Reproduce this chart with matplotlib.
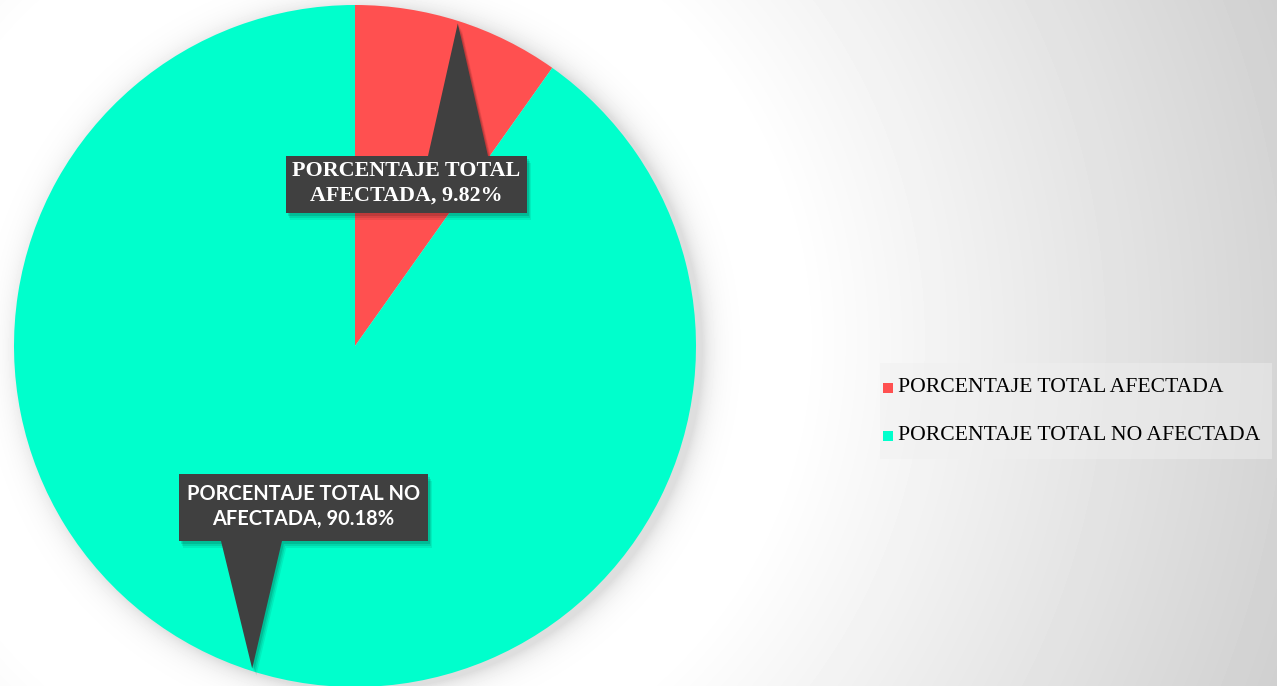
import numpy as np
import matplotlib.pyplot as plt
from matplotlib.patches import Polygon, Rectangle

# ============================================================================
# Data
# ============================================================================
labels = ["PORCENTAJE TOTAL AFECTADA", "PORCENTAJE TOTAL NO AFECTADA"]
values = [9.82, 90.18]
colors = ["#FF5050", "#00FFCC"]
callout_lines = [["PORCENTAJE TOTAL", "AFECTADA, 9.82%"],
                 ["PORCENTAJE TOTAL NO", "AFECTADA, 90.18%"]]

W, H = 1277, 686
fig = plt.figure(figsize=(W / 100, H / 100), dpi=100)
ax = fig.add_axes([0, 0, 1, 1])

cx, cy_px, R = 355, 346, 341
cy = H - cy_px

# radial grey background + soft pie shadow
yy, xx = np.mgrid[0:H, 0:W]
d = np.hypot(xx - 350, yy - 340)
shade = 1.0 - 0.19 * np.clip((d - 450) / 550, 0, 1)
rr = np.hypot(xx - (cx + 6), yy - (cy_px + 3))
shade *= 1 - 0.13 * np.exp(-np.clip(rr - R, 0, None) / 11)
ax.imshow(shade, cmap="gray", vmin=0, vmax=1, extent=[0, W, 0, H],
          origin="upper", zorder=0, aspect="auto")

# pie
wedges, _ = ax.pie(values, colors=colors, startangle=90, counterclock=False,
                   center=(cx, cy), radius=R, frame=True,
                   wedgeprops=dict(linewidth=0, zorder=2))
ax.set_xlim(0, W)
ax.set_ylim(0, H)
ax.set_aspect("equal")
ax.axis("off")

# callouts: box (x0, top, x1, bottom) in px, pointer base x-range
boxes = [(286, 156, 527, 213), (179, 474, 428, 541)]
bases = [(428, 488), (221, 282)]
fonts = [dict(family="Liberation Serif", size=15.8, weight="bold"),
         dict(family="Lato", size=14.4, weight="bold")]
box_color = "#404040"

for i, w in enumerate(wedges):
    mid = np.deg2rad((w.theta1 + w.theta2) / 2)
    tx = cx + R * 0.993 * np.cos(mid)
    ty = cy + R * 0.993 * np.sin(mid)
    x0, t, x1, b = boxes[i]
    y_top, y_bot = H - t, H - b
    base_y = y_top if ty > y_top else y_bot
    bx0, bx1 = bases[i]
    layers = [(7, "k", 0.07, 5), (5, "k", 0.09, 5), (3, "k", 0.12, 5),
              (0, box_color, 1, 6)]
    for off, col, alpha, z in layers:
        ax.add_patch(Rectangle((x0 + off * 0.6, y_bot - off), x1 - x0,
                               y_top - y_bot, facecolor=col, alpha=alpha,
                               lw=0, zorder=z))
        ax.add_patch(Polygon([(bx0 + off * 0.6, base_y - off),
                              (bx1 + off * 0.6, base_y - off),
                              (tx + off * 0.6, ty - off)], closed=True,
                             facecolor=col, alpha=alpha, lw=0, zorder=z))
    ax.text((x0 + x1) / 2, (y_top + y_bot) / 2 + 1, "\n".join(callout_lines[i]),
            ha="center", va="center", color="white", linespacing=1.3,
            zorder=7, **fonts[i])

# legend
ax.add_patch(Rectangle((880, H - 459), 392, 96, facecolor="#f0f0f0",
                       alpha=0.45, lw=0, zorder=3))
for i, lab in enumerate(labels):
    ly = H - 388 - i * 48
    ax.add_patch(Rectangle((883, ly - 5), 10, 10, facecolor=colors[i],
                           lw=0, zorder=4))
    ax.text(898, ly, lab, ha="left", va="center", color="black",
            family="Liberation Serif", size=15.6, zorder=4)

fig.savefig("out.png", dpi=100)
